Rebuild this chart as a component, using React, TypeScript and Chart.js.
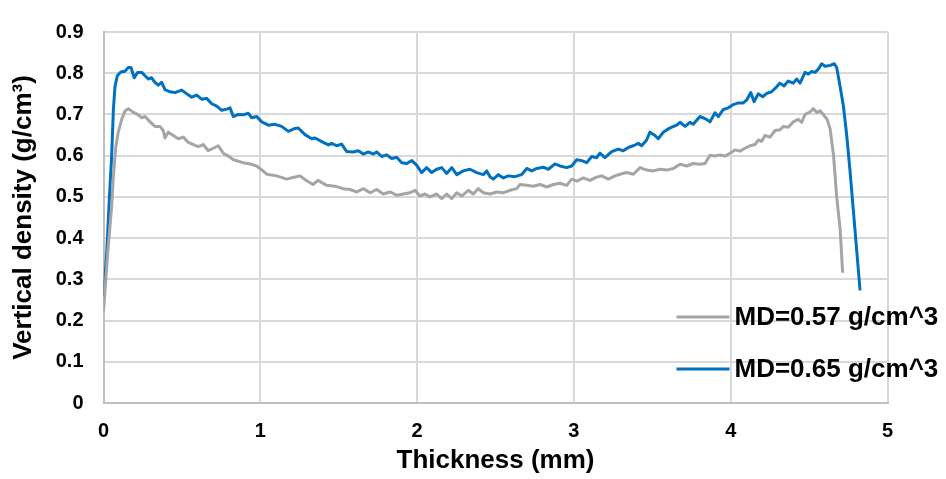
import React, { useEffect, useRef } from 'react';
import { Chart, registerables } from 'chart.js';

Chart.register(...registerables);

const xAxisTitle = 'Thickness (mm)';
const yAxisTitle = 'Vertical density (g/cm³)';
const xTickValues = [0, 1, 2, 3, 4, 5];
const yTickValues = [0, 0.1, 0.2, 0.3, 0.4, 0.5, 0.6, 0.7, 0.8, 0.9];
const seriesLabels = ['MD=0.57 g/cm^3', 'MD=0.65 g/cm^3'];
const seriesColors = ['#a5a5a5', '#0070c0'];

const grayX = [
  0, 0.026, 0.052, 0.063, 0.078, 0.094, 0.116, 0.137, 0.158, 0.18, 0.201, 0.222, 0.244, 0.265, 0.297, 0.328,
  0.36, 0.381, 0.392, 0.413, 0.445, 0.477, 0.509, 0.541, 0.573, 0.605, 0.636, 0.668, 0.7, 0.732, 0.764, 0.796,
  0.828, 0.89, 0.934, 0.977, 1.017, 1.041, 1.105, 1.168, 1.209, 1.253, 1.296, 1.336, 1.368, 1.423, 1.487, 1.527,
  1.572, 1.615, 1.657, 1.7, 1.742, 1.784, 1.827, 1.87, 1.912, 1.955, 1.987, 2.018, 2.05, 2.082, 2.125, 2.157,
  2.189, 2.221, 2.253, 2.284, 2.327, 2.358, 2.39, 2.422, 2.465, 2.508, 2.55, 2.592, 2.635, 2.656, 2.699, 2.741,
  2.784, 2.827, 2.869, 2.911, 2.954, 2.986, 3.018, 3.06, 3.103, 3.145, 3.177, 3.219, 3.262, 3.294, 3.337, 3.379,
  3.422, 3.464, 3.507, 3.549, 3.592, 3.634, 3.677, 3.719, 3.761, 3.804, 3.836, 3.868, 3.9, 3.932, 3.963, 3.995,
  4.027, 4.059, 4.091, 4.123, 4.155, 4.176, 4.198, 4.219, 4.251, 4.283, 4.315, 4.336, 4.367, 4.399, 4.431, 4.453,
  4.474, 4.506, 4.528, 4.549, 4.57, 4.59, 4.615, 4.634, 4.656, 4.676, 4.698, 4.714,
];
const grayY = [
  0.223, 0.36, 0.477, 0.55, 0.62, 0.657, 0.688, 0.708, 0.714, 0.708, 0.703, 0.699, 0.692, 0.695, 0.682, 0.671,
  0.671, 0.661, 0.643, 0.657, 0.649, 0.641, 0.645, 0.632, 0.627, 0.622, 0.627, 0.612, 0.618, 0.624, 0.606, 0.599,
  0.59, 0.583, 0.58, 0.575, 0.563, 0.555, 0.551, 0.543, 0.547, 0.551, 0.539, 0.53, 0.54, 0.528, 0.525, 0.52,
  0.518, 0.512, 0.52, 0.51, 0.518, 0.507, 0.512, 0.504, 0.507, 0.51, 0.516, 0.502, 0.507, 0.5, 0.507, 0.496,
  0.507, 0.496, 0.51, 0.502, 0.516, 0.507, 0.52, 0.51, 0.507, 0.512, 0.51, 0.516, 0.52, 0.53, 0.528, 0.526,
  0.53, 0.524, 0.53, 0.533, 0.528, 0.543, 0.538, 0.546, 0.54, 0.548, 0.551, 0.543, 0.551, 0.555, 0.559, 0.555,
  0.571, 0.565, 0.563, 0.567, 0.565, 0.569, 0.579, 0.575, 0.581, 0.579, 0.581, 0.601, 0.599, 0.602, 0.599, 0.606,
  0.614, 0.611, 0.618, 0.624, 0.627, 0.638, 0.635, 0.649, 0.645, 0.661, 0.663, 0.671, 0.669, 0.682, 0.688, 0.681,
  0.7, 0.706, 0.714, 0.705, 0.709, 0.7, 0.688, 0.665, 0.6, 0.5, 0.422, 0.316,
];

const blueX = [
  0, 0.02, 0.038, 0.052, 0.063, 0.073, 0.088, 0.11, 0.137, 0.158, 0.175, 0.196, 0.218, 0.244, 0.265, 0.286,
  0.307, 0.328, 0.349, 0.371, 0.392, 0.424, 0.456, 0.499, 0.531, 0.563, 0.594, 0.626, 0.658, 0.69, 0.722, 0.754,
  0.786, 0.807, 0.828, 0.86, 0.892, 0.923, 0.945, 0.977, 1.009, 1.051, 1.094, 1.136, 1.179, 1.221, 1.242, 1.285,
  1.328, 1.349, 1.392, 1.434, 1.455, 1.487, 1.519, 1.551, 1.593, 1.625, 1.657, 1.689, 1.721, 1.742, 1.774, 1.806,
  1.838, 1.87, 1.902, 1.934, 1.966, 1.997, 2.029, 2.061, 2.093, 2.125, 2.157, 2.189, 2.221, 2.253, 2.295, 2.337,
  2.38, 2.422, 2.444, 2.465, 2.486, 2.518, 2.55, 2.582, 2.624, 2.667, 2.699, 2.731, 2.763, 2.805, 2.837, 2.879,
  2.911, 2.954, 2.986, 3.018, 3.05, 3.082, 3.114, 3.145, 3.166, 3.198, 3.241, 3.283, 3.315, 3.347, 3.379, 3.411,
  3.432, 3.464, 3.485, 3.517, 3.538, 3.57, 3.602, 3.624, 3.656, 3.677, 3.709, 3.74, 3.761, 3.804, 3.836, 3.868,
  3.9, 3.921, 3.953, 3.985, 4.017, 4.048, 4.08, 4.102, 4.128, 4.149, 4.176, 4.204, 4.23, 4.261, 4.293, 4.314,
  4.34, 4.367, 4.399, 4.421, 4.442, 4.474, 4.495, 4.517, 4.538, 4.559, 4.58, 4.602, 4.634, 4.661, 4.676, 4.698,
  4.719, 4.74, 4.761, 4.825,
];
const blueY = [
  0.26, 0.36, 0.5, 0.6, 0.712, 0.767, 0.794, 0.803, 0.805, 0.814, 0.814, 0.789, 0.802, 0.802, 0.794, 0.786,
  0.789, 0.778, 0.771, 0.778, 0.76, 0.755, 0.753, 0.759, 0.75, 0.742, 0.747, 0.737, 0.739, 0.726, 0.72, 0.71,
  0.713, 0.716, 0.695, 0.7, 0.699, 0.703, 0.692, 0.695, 0.682, 0.674, 0.676, 0.671, 0.659, 0.666, 0.667, 0.651,
  0.641, 0.643, 0.634, 0.626, 0.63, 0.624, 0.628, 0.61, 0.609, 0.612, 0.604, 0.609, 0.604, 0.609, 0.598, 0.602,
  0.593, 0.596, 0.583, 0.581, 0.588, 0.577, 0.559, 0.571, 0.559, 0.567, 0.571, 0.557, 0.571, 0.554, 0.563, 0.567,
  0.559, 0.554, 0.563, 0.549, 0.543, 0.554, 0.546, 0.551, 0.549, 0.554, 0.569, 0.563, 0.569, 0.572, 0.567, 0.58,
  0.575, 0.571, 0.575, 0.59, 0.588, 0.583, 0.598, 0.595, 0.606, 0.595, 0.61, 0.616, 0.612, 0.62, 0.624, 0.63,
  0.624, 0.638, 0.657, 0.649, 0.641, 0.657, 0.665, 0.669, 0.674, 0.681, 0.671, 0.681, 0.676, 0.695, 0.69, 0.682,
  0.704, 0.695, 0.712, 0.716, 0.724, 0.728, 0.728, 0.735, 0.753, 0.731, 0.75, 0.743, 0.751, 0.755, 0.767, 0.776,
  0.769, 0.781, 0.776, 0.786, 0.776, 0.802, 0.798, 0.804, 0.802, 0.81, 0.823, 0.817, 0.819, 0.823, 0.814, 0.767,
  0.72, 0.649, 0.563, 0.273,
];

const FONT = "'Liberation Sans', Arial, sans-serif";

const toPoints = (xs: number[], ys: number[]) => xs.map((x, i) => ({ x, y: ys[i] }));

const legendPlugin = {
  id: 'insideLegend',
  afterDraw(chart: any) {
    const { ctx, chartArea } = chart;
    const rows = [chartArea.bottom - 86, chartArea.bottom - 34];
    const lineStart = chartArea.right - 211;
    const lineEnd = chartArea.right - 158;
    ctx.save();
    chart.data.datasets.forEach((ds: any, i: number) => {
      const y = rows[i];
      ctx.strokeStyle = ds.borderColor;
      ctx.lineWidth = 3;
      ctx.lineCap = 'butt';
      ctx.beginPath();
      ctx.moveTo(lineStart, y);
      ctx.lineTo(lineEnd, y);
      ctx.stroke();
      ctx.fillStyle = '#000';
      ctx.font = `bold 26px ${FONT}`;
      ctx.textBaseline = 'middle';
      ctx.textAlign = 'left';
      ctx.fillText(ds.label, lineEnd + 5, y + 1);
    });
    ctx.restore();
  },
};

export default function App() {
  const ref = useRef<HTMLCanvasElement | null>(null);
  useEffect(() => {
    if (!ref.current) return;
    const chart = new Chart(ref.current, {
      type: 'scatter',
      data: {
        datasets: [
          {
            label: seriesLabels[0],
            data: toPoints(grayX, grayY),
            showLine: true,
            borderColor: seriesColors[0],
            backgroundColor: seriesColors[0],
            borderWidth: 3,
            pointRadius: 0,
            tension: 0,
            borderJoinStyle: 'round',
          },
          {
            label: seriesLabels[1],
            data: toPoints(blueX, blueY),
            showLine: true,
            borderColor: seriesColors[1],
            backgroundColor: seriesColors[1],
            borderWidth: 3,
            pointRadius: 0,
            tension: 0,
            borderJoinStyle: 'round',
          },
        ],
      },
      options: {
        responsive: false,
        animation: false,
        devicePixelRatio: 1,
        events: [],
        layout: { padding: { left: 0, right: 58.5, top: 20, bottom: 0 } },
        plugins: {
          legend: { display: false },
          tooltip: { enabled: false },
        },
        scales: {
          x: {
            type: 'linear',
            min: xTickValues[0],
            max: xTickValues[xTickValues.length - 1],
            afterBuildTicks: (scale: any) => {
              scale.ticks = xTickValues.map((v) => ({ value: v }));
            },
            afterFit: (scale: any) => {
              scale.height = 76;
            },
            grid: { color: '#d9d9d9', lineWidth: 2, drawTicks: false },
            border: { color: '#bfbfbf', width: 2 },
            ticks: {
              color: '#000',
              padding: 16,
              font: { family: FONT, size: 20, weight: 'bold' },
              callback: (v: any) => String(v),
            },
            title: {
              display: true,
              text: xAxisTitle,
              color: '#000',
              font: { family: FONT, size: 26, weight: 'bold' },
              padding: { top: 0, bottom: 3 },
            },
          },
          y: {
            type: 'linear',
            min: yTickValues[0],
            max: yTickValues[yTickValues.length - 1],
            afterBuildTicks: (scale: any) => {
              scale.ticks = yTickValues.map((v) => ({ value: v }));
            },
            afterFit: (scale: any) => {
              scale.width = 103.5;
            },
            grid: { color: '#d9d9d9', lineWidth: 2, drawTicks: false },
            border: { color: '#bfbfbf', width: 2 },
            ticks: {
              color: '#000',
              padding: 20,
              font: { family: FONT, size: 20, weight: 'bold' },
              callback: (v: any) => Number(v).toFixed(1).replace(/\.0$/, ''),
            },
            title: {
              display: true,
              text: yAxisTitle,
              color: '#000',
              font: { family: FONT, size: 26, weight: 'bold' },
              padding: { top: 8, bottom: 0 },
            },
          },
        },
      },
      plugins: [legendPlugin],
    } as any);
    return () => chart.destroy();
  }, []);

  return (
    <div style={{ position: 'absolute', left: 0, top: 0, width: 946, height: 479, background: '#fff' }}>
      <canvas ref={ref} width={946} height={479} style={{ display: 'block' }} />
    </div>
  );
}
